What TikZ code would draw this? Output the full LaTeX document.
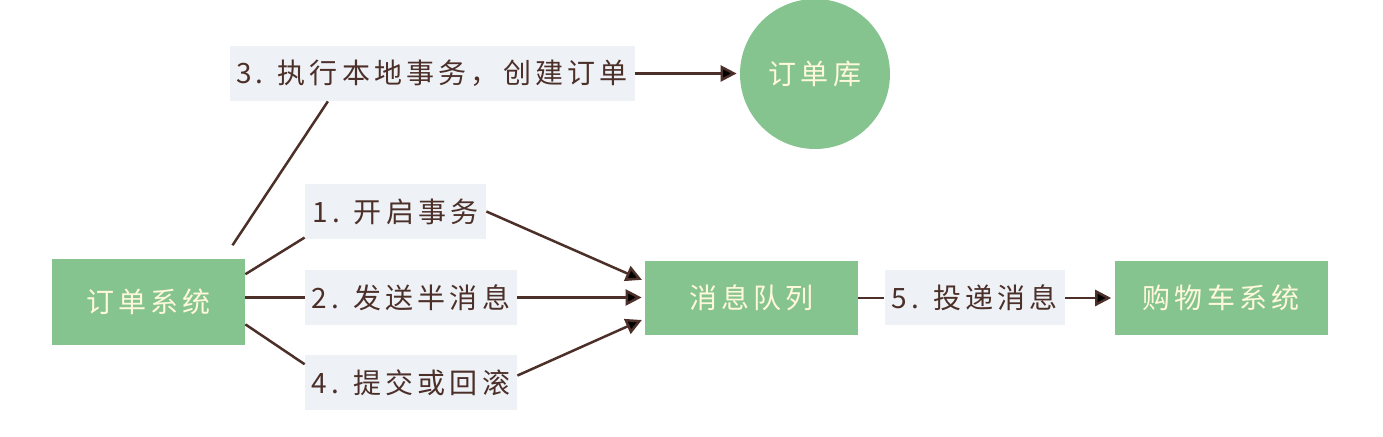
\documentclass[tikz,border=0pt]{standalone}
\usepackage{fontspec}
\newfontfamily\cjk[LetterSpace=15]{Noto Sans CJK SC}
\usetikzlibrary{arrows.meta, positioning}
\definecolor{boxgreen}{HTML}{86C48F}
\definecolor{boxtext}{HTML}{FFF8DC}
\definecolor{notegrey}{HTML}{EEF2F6}
\definecolor{ink}{HTML}{4B2F28}
\tikzset{
  system/.style={rectangle, fill=boxgreen, text=boxtext, inner sep=0pt,
    font=\cjk\fontsize{14}{16}\selectfont},
  store/.style={circle, fill=boxgreen, text=boxtext, inner sep=0pt,
    minimum size=75pt, font=\cjk\fontsize{14}{16}\selectfont},
  note/.style={rectangle, fill=notegrey, text=ink, inner sep=0pt,
    minimum height=27.5pt, font=\cjk\fontsize{14}{16}\selectfont},
  link/.style={draw=ink, line width=1.25pt},
  flow/.style={->, shorten >=1.5pt},
  >={Triangle[length=8pt, width=8pt]}
}

\begin{document}
\begin{tikzpicture}[x=0.5pt, y=-0.5pt]
  \useasboundingbox (0,0) rectangle (1383,437);

  \node[system, minimum width=96.5pt, minimum height=43pt] (sys)  at (148.5,302) {订单系统};
  \node[system, minimum width=106.5pt, minimum height=37pt] (mq)  at (751.5,298) {消息队列};
  \node[note, minimum width=90pt]  (n5) [right=13pt of mq] {5. 投递消息};
  \node[system, minimum width=106.5pt, minimum height=37pt] (cart) [right=24.5pt of n5] {购物车系统};
  \node[store] (db) at (815,74) {订单库};

  \node[note, minimum width=202.5pt] (n3) at (432,73.5)  {3. 执行本地事务，创建订单};
  \node[note, minimum width=90.5pt]  (n1) at (395.5,211.5) {1. 开启事务};
  \node[note, minimum width=106pt]   (n2) at (411,297.5)  {2. 发送半消息};
  \node[note, minimum width=106pt]   (n4) at (411,383)    {4. 提交或回滚};

  \path[link]
    (sys.16)  edge (n1.196)
    (sys.east |- n2.west) edge (n2.west)
    (sys.-13) edge (n4.170)
    (n3.195.5) edge[shorten >=8pt] (sys.30)
    (mq.east |- n5.west) edge (n5.west)
    (n1.east) edge[flow] (mq.171)
    (n2.east) edge[flow] (mq.west |- n2.east)
    (n4.4)    edge[flow] (mq.191)
    (n3.east) edge[flow] (db.west |- n3.east)
    (n5.east) edge[flow] (cart.west);
\end{tikzpicture}
\end{document}
